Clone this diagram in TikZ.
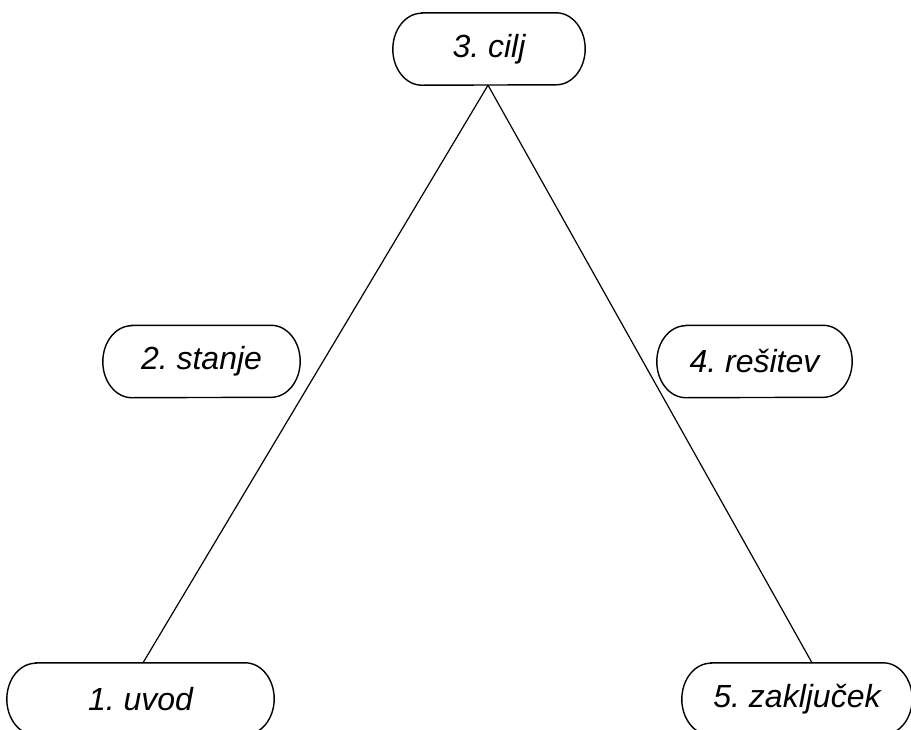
\documentclass[tikz,border=0pt]{standalone}
\usepackage{fontspec}
\setmainfont{Liberation Sans}
\frenchspacing
\newcommand\pillshape[2]{%
  \draw[pillline] ([xshift=#2]#1.north west) -- ([xshift=-#2]#1.north east)
    arc[start angle=90,end angle=-90,x radius=#2,y radius=36pt]
    -- ([xshift=#2]#1.south west)
    arc[start angle=270,end angle=90,x radius=#2,y radius=36pt] -- cycle;}
\begin{document}
\begin{tikzpicture}[x=1pt,y=-1pt,
  pill/.style={minimum height=72pt, inner sep=0pt,
    font=\fontsize{32}{36}\selectfont\itshape},
  pillline/.style={draw=black, line width=1.4pt},
  conn/.style={draw=black, line width=1.2pt}]
\path[use as bounding box] (0,0) rectangle (911,729);
\begin{scope}
\clip (0,0) rectangle (911,729);
\node[pill, minimum width=192pt] (c) at (489,49) {3. cilj};
\node[pill, minimum width=197pt] (s) at (201.5,361.5) {2. stanje};
\node[pill, minimum width=195pt] (r) at (754.5,361.5) {4. rešitev};
\node[pill, minimum width=267pt] (u) at (140.5,699) {1. uvod};
\node[pill, minimum width=230pt] (z) at (797,699) {5. zaključek};
\pillshape{c}{29pt}
\pillshape{s}{29pt}
\pillshape{r}{29pt}
\pillshape{u}{29pt}
\pillshape{z}{29pt}
\coordinate (ct) at ([xshift=-1pt]c.south);
\coordinate (ut) at ([xshift=2.5pt]u.north);
\coordinate (zt) at ([xshift=15pt]z.north);
\draw[conn] (ct) -- (ut);
\draw[conn] (ct) -- (zt);
\end{scope}
\end{tikzpicture}
\end{document}
